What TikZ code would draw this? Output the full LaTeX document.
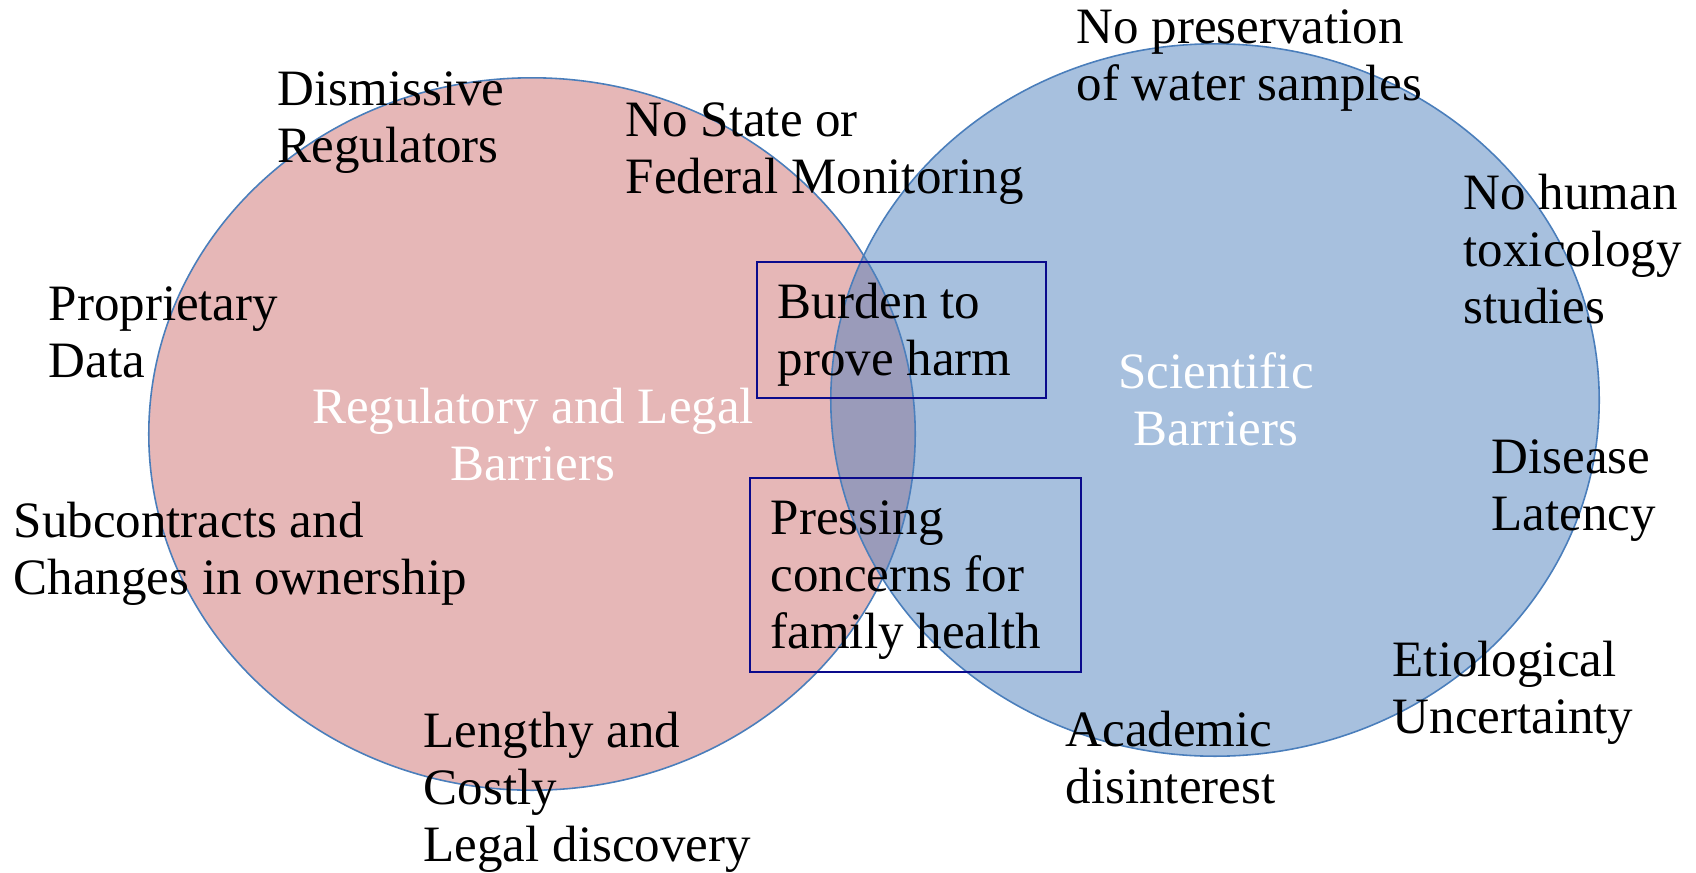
\documentclass[tikz,border=0pt]{standalone}
\usepackage{fontspec}
\setmainfont{Liberation Serif}

\definecolor{regfill}{RGB}{230,183,183}
\definecolor{scifill}{RGB}{79,129,189}
\definecolor{rimcolor}{RGB}{74,126,187}
\definecolor{boxcolor}{RGB}{10,10,140}

\begin{document}
\begin{tikzpicture}
		[x=0.01cm,y=-0.01cm,line cap=round,
		%Styles (nodes sit on the baseline of their last line)
		red set/.style={fill=regfill,draw=rimcolor,line width=0.45pt},
		blue set/.style={fill=scifill,fill opacity=0.5,draw=rimcolor,line width=0.45pt},
		barrier/.style={anchor=base west,align=left,inner sep=0pt,
			font=\fontsize{14.5}{16.2}\selectfont},
		set title/.style={anchor=base,align=center,inner sep=0pt,text=white,
			font=\fontsize{14.5}{16.2}\selectfont},
		shared box/.style={draw=boxcolor,line width=0.6pt}
		]
		
		\useasboundingbox (0,0) rectangle (1696,872);
		
		%The sets
		\filldraw[red set] (532,434) ellipse [x radius=3.83cm, y radius=3.56cm];
		\filldraw[blue set] (1215,400) ellipse [x radius=3.84cm, y radius=3.56cm];
		
		\node[set title] (regtitle) at (533,480) {Regulatory and Legal\\Barriers};
		\node[set title] (scititle) at (1216,445) {Scientific\\Barriers};
		
		%Regulatory and legal side
		\node[barrier] (dismiss) at (277,162) {Dismissive\\Regulators};
		\node[barrier] (monitor) at (625,193) {No State or\\Federal Monitoring};
		\node[barrier] (propdata) at (48,377) {Proprietary\\Data};
		\node[barrier] (subcon) at (13,594) {Subcontracts and\\Changes in ownership};
		\node[barrier] (lengthy) at (423,861) {Lengthy and\\Costly\\Legal discovery};
		
		%Shared
		\draw[shared box] (757,262) rectangle (1046,398);
		\node[barrier] (burden) at (777,375) {Burden to\\prove harm};
		\draw[shared box] (750,478) rectangle (1081,672);
		\node[barrier] (pressing) at (770,648) {Pressing\\concerns for\\family health};
		
		%Scientific side
		\node[barrier] (preserve) at (1076,100) {No preservation\\of water samples};
		\node[barrier] (toxic) at (1463,323) {No human\\toxicology\\studies};
		\node[barrier] (latency) at (1491,530) {Disease\\Latency};
		\node[barrier] (etiology) at (1392,733) {Etiological\\Uncertainty};
		\node[barrier] (academic) at (1065,803) {Academic\\disinterest};
	\end{tikzpicture}
\end{document}
